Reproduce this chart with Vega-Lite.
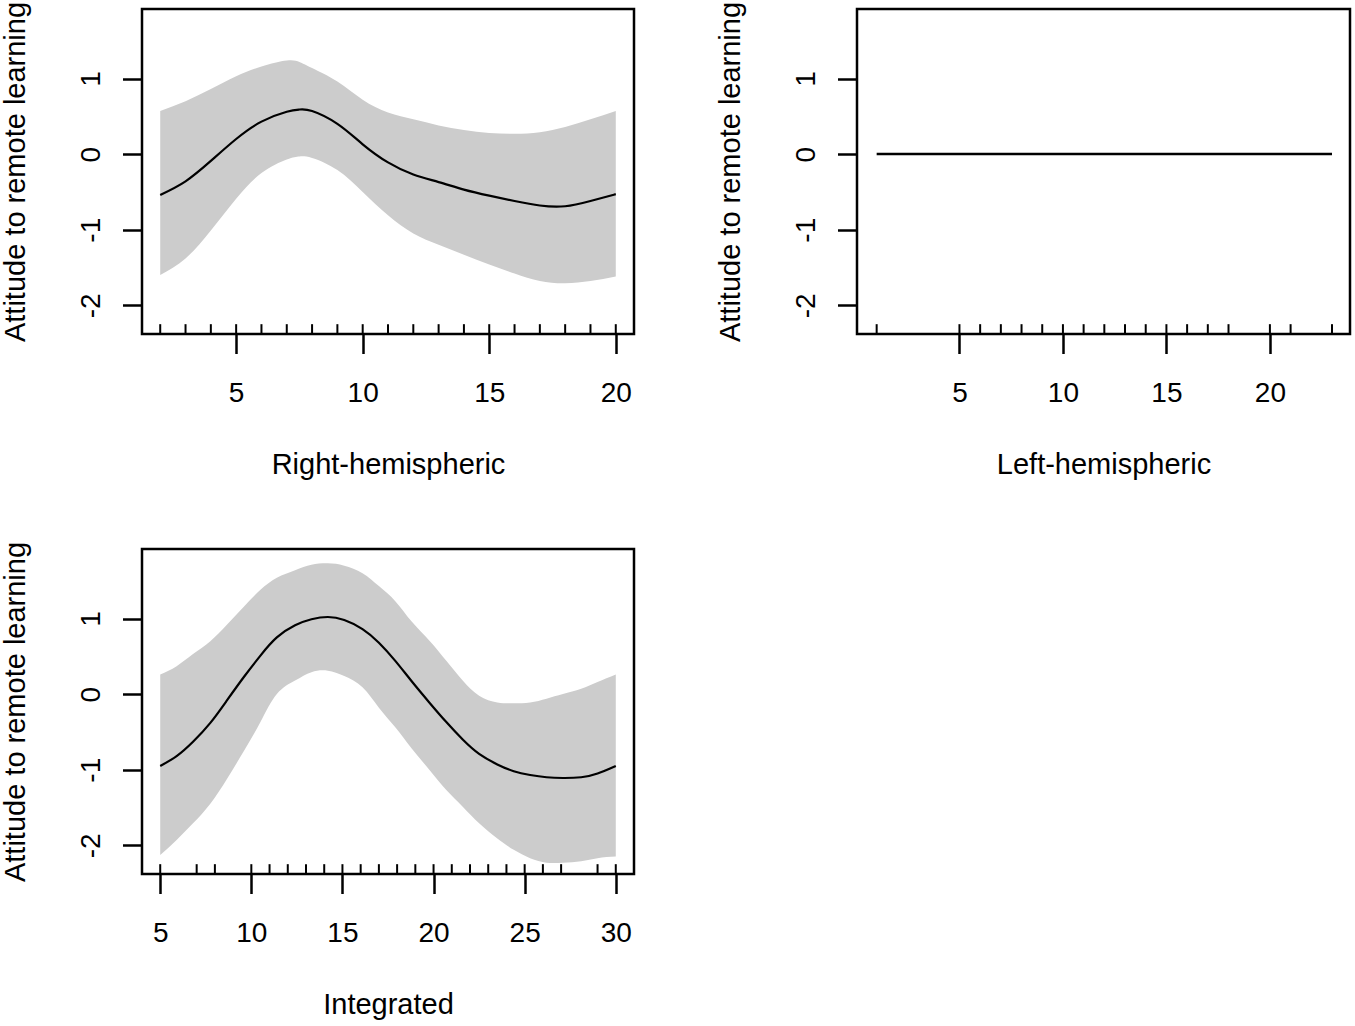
{
  "$schema": "https://vega.github.io/schema/vega-lite/v6.json",
  "background": "white",
  "padding": {"left": 0, "top": 0, "right": 0, "bottom": 0},
  "columns": 2,
  "spacing": {"row": 215, "column": 223},
  "bounds": "flush",
  "datasets": {
    "right": [
      {"x": 2, "fit": -0.54, "lo": -1.60, "hi": 0.57},
      {"x": 3, "fit": -0.36, "lo": -1.38, "hi": 0.70},
      {"x": 4, "fit": -0.09, "lo": -1.01, "hi": 0.86},
      {"x": 5, "fit": 0.20, "lo": -0.59, "hi": 1.03},
      {"x": 6, "fit": 0.43, "lo": -0.25, "hi": 1.16},
      {"x": 7, "fit": 0.56, "lo": -0.07, "hi": 1.24},
      {"x": 7.5, "fit": 0.59, "lo": -0.03, "hi": 1.22},
      {"x": 8, "fit": 0.57, "lo": -0.05, "hi": 1.14},
      {"x": 9, "fit": 0.40, "lo": -0.21, "hi": 0.96},
      {"x": 10, "fit": 0.13, "lo": -0.50, "hi": 0.72},
      {"x": 11, "fit": -0.11, "lo": -0.81, "hi": 0.55},
      {"x": 12, "fit": -0.27, "lo": -1.05, "hi": 0.46},
      {"x": 13, "fit": -0.37, "lo": -1.20, "hi": 0.38},
      {"x": 14, "fit": -0.47, "lo": -1.33, "hi": 0.32},
      {"x": 15, "fit": -0.55, "lo": -1.46, "hi": 0.28},
      {"x": 16, "fit": -0.62, "lo": -1.58, "hi": 0.27},
      {"x": 17, "fit": -0.68, "lo": -1.68, "hi": 0.29},
      {"x": 18, "fit": -0.69, "lo": -1.71, "hi": 0.36},
      {"x": 19, "fit": -0.62, "lo": -1.68, "hi": 0.46},
      {"x": 20, "fit": -0.53, "lo": -1.62, "hi": 0.57}
    ],
    "right_rug": [
      {"x": 2}, {"x": 3}, {"x": 4}, {"x": 5}, {"x": 6}, {"x": 7}, {"x": 8},
      {"x": 9}, {"x": 10}, {"x": 11}, {"x": 12}, {"x": 13}, {"x": 14},
      {"x": 15}, {"x": 16}, {"x": 17}, {"x": 18}, {"x": 19}, {"x": 20}
    ],
    "left": [
      {"x": 1, "fit": 0},
      {"x": 23, "fit": 0}
    ],
    "left_rug": [
      {"x": 1}, {"x": 5}, {"x": 6}, {"x": 7}, {"x": 8}, {"x": 9}, {"x": 10},
      {"x": 11}, {"x": 12}, {"x": 13}, {"x": 14}, {"x": 15}, {"x": 16},
      {"x": 17}, {"x": 18}, {"x": 20}, {"x": 21}, {"x": 23}
    ],
    "integ": [
      {"x": 5, "fit": -0.95, "lo": -2.13, "hi": 0.26},
      {"x": 5.9, "fit": -0.82, "lo": -1.93, "hi": 0.37},
      {"x": 6.8, "fit": -0.63, "lo": -1.71, "hi": 0.53},
      {"x": 7.75, "fit": -0.38, "lo": -1.45, "hi": 0.70},
      {"x": 8.67, "fit": -0.08, "lo": -1.12, "hi": 0.92},
      {"x": 9.6, "fit": 0.23, "lo": -0.75, "hi": 1.16},
      {"x": 10.5, "fit": 0.51, "lo": -0.37, "hi": 1.38},
      {"x": 11.4, "fit": 0.75, "lo": 0.0, "hi": 1.54},
      {"x": 12.4, "fit": 0.91, "lo": 0.18, "hi": 1.64},
      {"x": 13.3, "fit": 0.99, "lo": 0.29, "hi": 1.71},
      {"x": 14.2, "fit": 1.02, "lo": 0.31, "hi": 1.73},
      {"x": 15.1, "fit": 0.98, "lo": 0.24, "hi": 1.70},
      {"x": 16.1, "fit": 0.86, "lo": 0.09, "hi": 1.60},
      {"x": 17.0, "fit": 0.68, "lo": -0.18, "hi": 1.43},
      {"x": 17.9, "fit": 0.44, "lo": -0.44, "hi": 1.23},
      {"x": 18.8, "fit": 0.17, "lo": -0.72, "hi": 0.96},
      {"x": 19.8, "fit": -0.12, "lo": -1.01, "hi": 0.70},
      {"x": 20.7, "fit": -0.37, "lo": -1.27, "hi": 0.44},
      {"x": 21.6, "fit": -0.60, "lo": -1.49, "hi": 0.18},
      {"x": 22.5, "fit": -0.79, "lo": -1.71, "hi": -0.02},
      {"x": 23.5, "fit": -0.93, "lo": -1.91, "hi": -0.11},
      {"x": 24.4, "fit": -1.02, "lo": -2.06, "hi": -0.12},
      {"x": 25.3, "fit": -1.07, "lo": -2.17, "hi": -0.11},
      {"x": 26.2, "fit": -1.10, "lo": -2.23, "hi": -0.06},
      {"x": 27.1, "fit": -1.11, "lo": -2.23, "hi": 0.0},
      {"x": 28.1, "fit": -1.10, "lo": -2.21, "hi": 0.07},
      {"x": 29.0, "fit": -1.05, "lo": -2.17, "hi": 0.16},
      {"x": 30, "fit": -0.95, "lo": -2.15, "hi": 0.26}
    ],
    "integ_rug": [
      {"x": 5}, {"x": 7}, {"x": 8}, {"x": 10}, {"x": 11}, {"x": 12}, {"x": 13},
      {"x": 14}, {"x": 15}, {"x": 16}, {"x": 17}, {"x": 18}, {"x": 19},
      {"x": 20}, {"x": 21}, {"x": 22}, {"x": 23}, {"x": 24}, {"x": 25},
      {"x": 26}, {"x": 27}, {"x": 29}, {"x": 30}
    ]
  },
  "concat": [
    {
      "width": 492,
      "height": 325,
      "data": {"name": "right"},
      "layer": [
        {
          "mark": {"type": "area", "color": "#cccccc", "interpolate": "natural"},
          "encoding": {
            "x": {
              "field": "x",
              "type": "quantitative",
              "scale": {"domain": [1.28, 20.72], "nice": false, "zero": false},
              "axis": {"title": "Right-hemispheric", "values": [5, 10, 15, 20], "titleX": 246}
            },
            "y": {
              "field": "lo",
              "type": "quantitative",
              "scale": {"domain": [-2.38, 1.92], "nice": false, "zero": false},
              "axis": {"title": "Attitude to remote learning", "values": [-2, -1, 0, 1]}
            },
            "y2": {"field": "hi"}
          }
        },
        {
          "mark": {"type": "line", "color": "black", "strokeWidth": 2.2, "interpolate": "natural"},
          "encoding": {
            "x": {"field": "x", "type": "quantitative"},
            "y": {"field": "fit", "type": "quantitative"}
          }
        },
        {
          "data": {"name": "right_rug"},
          "mark": {"type": "rule", "color": "black", "strokeWidth": 2},
          "encoding": {
            "x": {"field": "x", "type": "quantitative"},
            "y": {"datum": -2.38},
            "y2": {"datum": -2.25}
          }
        }
      ]
    },
    {
      "width": 493,
      "height": 325,
      "data": {"name": "left"},
      "layer": [
        {
          "mark": {"type": "line", "color": "black", "strokeWidth": 2.5},
          "encoding": {
            "x": {
              "field": "x",
              "type": "quantitative",
              "scale": {"domain": [0.05, 23.87], "nice": false, "zero": false},
              "axis": {"title": "Left-hemispheric", "values": [5, 10, 15, 20], "titleX": 246.5}
            },
            "y": {
              "field": "fit",
              "type": "quantitative",
              "scale": {"domain": [-2.38, 1.92], "nice": false, "zero": false},
              "axis": {"title": "Attitude to remote learning", "values": [-2, -1, 0, 1]}
            }
          }
        },
        {
          "data": {"name": "left_rug"},
          "mark": {"type": "rule", "color": "black", "strokeWidth": 2},
          "encoding": {
            "x": {"field": "x", "type": "quantitative"},
            "y": {"datum": -2.38},
            "y2": {"datum": -2.25}
          }
        }
      ]
    },
    {
      "width": 492,
      "height": 325,
      "data": {"name": "integ"},
      "layer": [
        {
          "mark": {"type": "area", "color": "#cccccc", "interpolate": "natural"},
          "encoding": {
            "x": {
              "field": "x",
              "type": "quantitative",
              "scale": {"domain": [4, 31], "nice": false, "zero": false},
              "axis": {"title": "Integrated", "values": [5, 10, 15, 20, 25, 30], "titleX": 246}
            },
            "y": {
              "field": "lo",
              "type": "quantitative",
              "scale": {"domain": [-2.38, 1.92], "nice": false, "zero": false},
              "axis": {"title": "Attitude to remote learning", "values": [-2, -1, 0, 1]}
            },
            "y2": {"field": "hi"}
          }
        },
        {
          "mark": {"type": "line", "color": "black", "strokeWidth": 2.2, "interpolate": "natural"},
          "encoding": {
            "x": {"field": "x", "type": "quantitative"},
            "y": {"field": "fit", "type": "quantitative"}
          }
        },
        {
          "data": {"name": "integ_rug"},
          "mark": {"type": "rule", "color": "black", "strokeWidth": 2},
          "encoding": {
            "x": {"field": "x", "type": "quantitative"},
            "y": {"datum": -2.38},
            "y2": {"datum": -2.25}
          }
        }
      ]
    }
  ],
  "config": {
    "font": "Liberation Sans",
    "view": {"stroke": "black", "strokeWidth": 2.5},
    "axis": {
      "domain": false,
      "grid": false,
      "ticks": true,
      "tickColor": "black",
      "tickWidth": 2.5,
      "tickSize": 19.5,
      "labelFont": "Liberation Sans",
      "labelFontSize": 28,
      "labelColor": "black",
      "labelFlush": false,
      "labelOverlap": false,
      "labelBound": false,
      "labelExpr": "'' + datum.value",
      "titleFont": "Liberation Sans",
      "titleFontSize": 29,
      "titleFontWeight": "normal",
      "titleColor": "black"
    },
    "axisX": {
      "labelBaseline": "alphabetic",
      "labelPadding": 47.5,
      "titleBaseline": "alphabetic",
      "titleAlign": "center",
      "titleY": 139
    },
    "axisY": {
      "labelAngle": -90,
      "labelAlign": "center",
      "labelBaseline": "alphabetic",
      "labelPadding": 23,
      "titleAngle": -90,
      "titleAlign": "center",
      "titleBaseline": "alphabetic",
      "titleX": -117.7,
      "titleY": 162.5
    }
  }
}
